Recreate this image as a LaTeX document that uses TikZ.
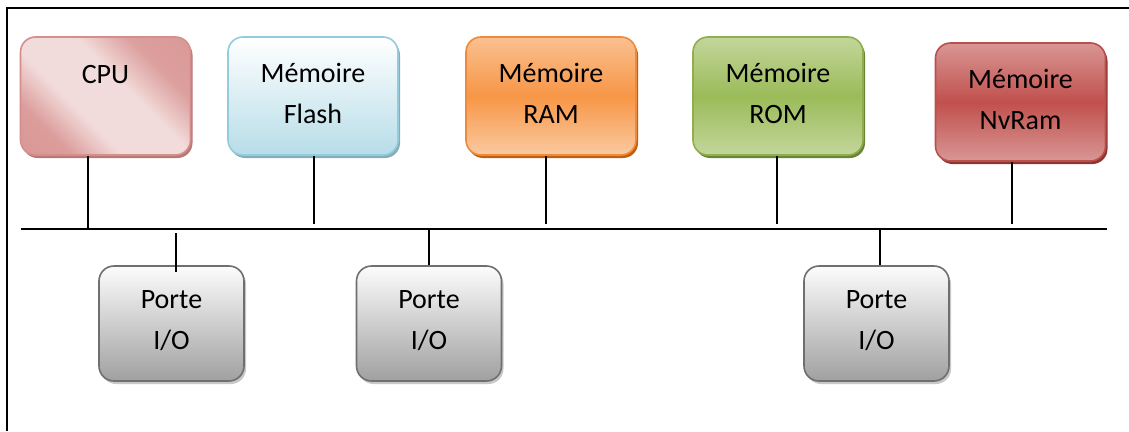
\documentclass[tikz,border=0pt]{standalone}
\usepackage{fontspec}
\setmainfont{Carlito}
\usetikzlibrary{shadows}

% palette
\definecolor{cpuDark}{HTML}{D7918F}
\definecolor{cpuLight}{HTML}{F2DCDB}
\definecolor{cpuEdge}{HTML}{D48F8D}
\definecolor{cpuShade}{HTML}{B87876}
\definecolor{flashTop}{HTML}{FFFFFF}
\definecolor{flashBot}{HTML}{B7DDE8}
\definecolor{flashEdge}{HTML}{93CDDD}
\definecolor{flashShade}{HTML}{86AEBA}
\definecolor{ramLight}{HTML}{FAC090}
\definecolor{ramMid}{HTML}{F79646}
\definecolor{ramEdge}{HTML}{EE8A3C}
\definecolor{ramShade}{HTML}{C0600F}
\definecolor{romLight}{HTML}{C3D69B}
\definecolor{romMid}{HTML}{9BBB59}
\definecolor{romEdge}{HTML}{8EAE4F}
\definecolor{romShade}{HTML}{6B8535}
\definecolor{nvLight}{HTML}{D99694}
\definecolor{nvMid}{HTML}{C0504D}
\definecolor{nvEdge}{HTML}{B9504D}
\definecolor{nvShade}{HTML}{8E3532}
\definecolor{ioTop}{HTML}{FCFCFC}
\definecolor{ioBot}{HTML}{A0A0A0}
\definecolor{ioEdge}{HTML}{6F6F6F}
\definecolor{ioShade}{HTML}{C8C8C8}

% diagonal pink wave for the processor block
\pgfdeclareverticalshading{cpuwave}{100bp}{%
  color(0bp)=(cpuDark); color(27bp)=(cpuDark!85!cpuLight);
  color(40bp)=(cpuLight); color(57bp)=(cpuLight);
  color(70bp)=(cpuDark!80!cpuLight); color(100bp)=(cpuDark)}

\newcommand{\lnstrut}{\rule{0pt}{24pt}}

\tikzset{
  unit/.style={rounded corners=15pt, line width=1.6pt, inner sep=0pt,
    minimum width=170pt, minimum height=118pt},
  iounit/.style={unit, minimum width=145pt, minimum height=115pt,
    draw=ioEdge, top color=ioTop, bottom color=ioBot,
    drop shadow={shadow xshift=2pt, shadow yshift=-3pt, fill=ioShade, opacity=1}},
  lbl/.style={inner sep=0pt, align=center, anchor=north,
    font=\fontsize{28}{41}\selectfont},
  wire/.style={line width=1.3pt, black},
  busline/.style={line width=1.6pt, black},
  frame/.style={line width=2pt, black}
}

\begin{document}
\begin{tikzpicture}[x=1pt, y=-1pt]
\useasboundingbox (0,0) rectangle (1129,431);

% page frame (top and left edges)
\coordinate (fa) at (7,431);
\coordinate (fb) at (7,8);
\coordinate (fc) at (1129,8);
\draw[frame] (fa) -- (fb) -- (fc);

% upper row: processor and memories
\node[unit, draw=cpuEdge, shading=cpuwave, shading angle=-45,
  drop shadow={shadow xshift=2pt, shadow yshift=-3pt, fill=cpuShade, opacity=1}]
  (cpu) at (105.5,96) {};
\node[lbl] (cpu-t) at (105.5,59) {\lnstrut CPU};

\node[unit, draw=flashEdge, top color=flashTop, bottom color=flashBot,
  drop shadow={shadow xshift=2pt, shadow yshift=-3pt, fill=flashShade, opacity=1}]
  (flash) at (313,96) {};
\node[lbl] (flash-t) at (313,58) {\lnstrut Mémoire\\Flash};

\node[unit, draw=ramEdge, top color=ramLight, bottom color=ramLight!85!white, middle color=ramMid,
  drop shadow={shadow xshift=2pt, shadow yshift=-3pt, fill=ramShade, opacity=1}]
  (ram) at (551,96) {};
\node[lbl] (ram-t) at (551,58) {\lnstrut Mémoire\\RAM};

\node[unit, draw=romEdge, top color=romLight, bottom color=romLight, middle color=romMid,
  drop shadow={shadow xshift=2pt, shadow yshift=-3pt, fill=romShade, opacity=1}]
  (rom) at (778,96) {};
\node[lbl] (rom-t) at (778,58) {\lnstrut Mémoire\\ROM};

\node[unit, draw=nvEdge, top color=nvLight, bottom color=nvLight, middle color=nvMid,
  drop shadow={shadow xshift=2pt, shadow yshift=-3pt, fill=nvShade, opacity=1}]
  (nv) at (1020.5,102) {};
\node[lbl] (nv-t) at (1020.5,64) {\lnstrut Mémoire\\NvRam};

% lower row: I/O ports
\node[iounit] (io1) at (171.5,323.5) {};
\node[lbl] (io1-t) at (171.5,284) {\lnstrut Porte\\I/O};

\node[iounit] (io2) at (429,323.5) {};
\node[lbl] (io2-t) at (429,284) {\lnstrut Porte\\I/O};

\node[iounit] (io3) at (876.5,323.5) {};
\node[lbl] (io3-t) at (876.5,284) {\lnstrut Porte\\I/O};

% system bus
\coordinate (busL) at (21,229);
\coordinate (busR) at (1107,229);
\draw[busline] (busL) -- (busR);

% taps onto the bus
\coordinate (t-cpu) at (88,229);
\coordinate (t-flash) at (314,224);
\coordinate (t-ram) at (546,224);
\coordinate (t-rom) at (777,224);
\coordinate (t-nv) at (1012,224);
\coordinate (t-io1a) at (176,233);
\coordinate (t-io1b) at (176,272);
\coordinate (t-io2) at (429,229);
\coordinate (t-io3) at (880,229);

\draw[wire] (cpu.south -| t-cpu) -- (t-cpu);
\draw[wire] (flash.south -| t-flash) -- (t-flash);
\draw[wire] (ram.south -| t-ram) -- (t-ram);
\draw[wire] (rom.south -| t-rom) -- (t-rom);
\draw[wire] (nv.south -| t-nv) -- (t-nv);
\draw[wire] (t-io1a) -- (t-io1b);
\draw[wire] (t-io2) -- (io2.north -| t-io2);
\draw[wire] (t-io3) -- (io3.north -| t-io3);
\end{tikzpicture}
\end{document}
